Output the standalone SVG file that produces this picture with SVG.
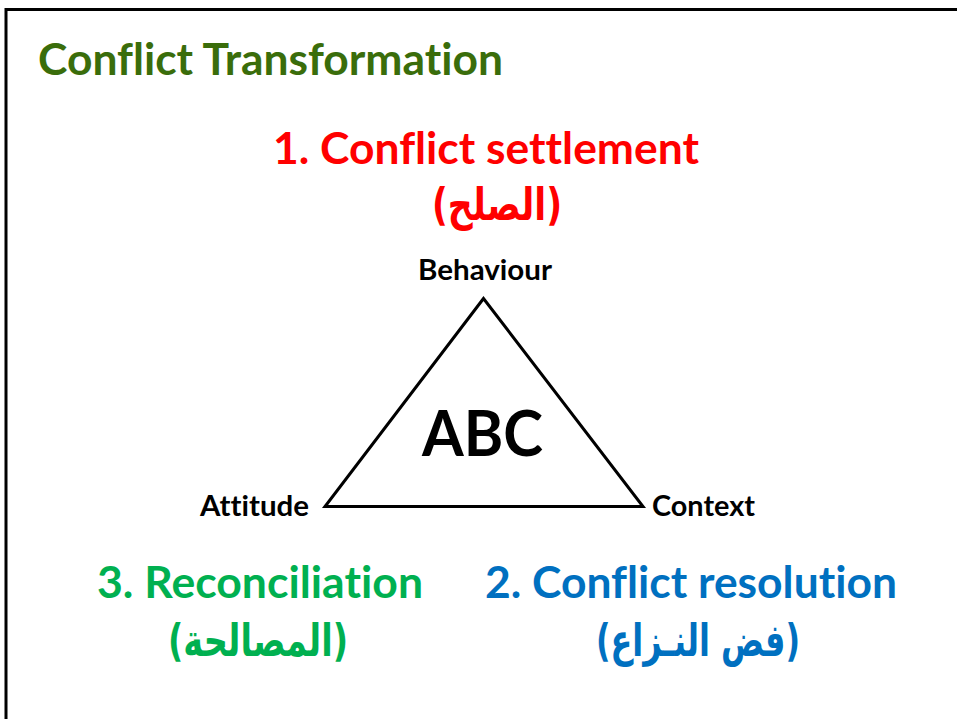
<svg xmlns="http://www.w3.org/2000/svg" width="957" height="719" viewBox="0 0 957 719">
<style>
.en{font-family:Lato,"Open Sans","DejaVu Sans",sans-serif;font-weight:bold;font-variant-ligatures:none;font-feature-settings:"liga" 0,"dlig" 0,"clig" 0}
.ar{font-family:"DejaVu Sans","Noto Sans",sans-serif;font-weight:bold}
.red{fill:#FF0000}.green{fill:#00B050}.blue{fill:#0070C0}.blk{fill:#000000}
</style>
<rect width="957" height="719" fill="#FFFFFF"/>
<path d="M6,719 V9.5 H957" fill="none" stroke="#000000" stroke-width="3"/>
<g id="title"><text class="en" x="38" y="75" font-size="44" fill="#3A6D0B" textLength="465" lengthAdjust="spacingAndGlyphs">Conflict Transformation</text></g>
<g id="settlement">
<text class="en red" x="486" y="164" font-size="43" text-anchor="middle" textLength="426" lengthAdjust="spacingAndGlyphs">1. Conflict settlement</text>
<text class="ar red" x="497" y="220" font-size="45" text-anchor="middle" textLength="130" lengthAdjust="spacingAndGlyphs">(الصلح)</text>
</g>
<g id="triangle">
<polygon points="483.5,298.5 325,506.5 643,506.5" fill="#FFFFFF" stroke="#000000" stroke-width="3" stroke-linejoin="miter"/>
<text class="en blk" x="482.5" y="456" font-size="64" text-anchor="middle" textLength="121" lengthAdjust="spacingAndGlyphs">ABC</text>
</g>
<g id="behaviour"><text class="en blk" x="485" y="280" font-size="29" text-anchor="middle" textLength="134" lengthAdjust="spacingAndGlyphs">Behaviour</text></g>
<g id="attitude"><text class="en blk" x="200" y="516" font-size="29" textLength="109" lengthAdjust="spacingAndGlyphs">Attitude</text></g>
<g id="context"><text class="en blk" x="652" y="516" font-size="29" textLength="103" lengthAdjust="spacingAndGlyphs">Context</text></g>
<g id="reconciliation">
<text class="en green" x="97" y="598" font-size="43" textLength="326" lengthAdjust="spacingAndGlyphs">3. Reconciliation</text>
<text class="ar green" x="258" y="656" font-size="45" text-anchor="middle" textLength="180" lengthAdjust="spacingAndGlyphs">(المصالحة)</text>
</g>
<g id="resolution">
<text class="en blue" x="485" y="598" font-size="43" textLength="412" lengthAdjust="spacingAndGlyphs">2. Conflict resolution</text>
<text class="ar blue" x="698" y="656" font-size="45" text-anchor="middle" textLength="204" lengthAdjust="spacingAndGlyphs">(فض النـزاع)</text>
</g>
</svg>
